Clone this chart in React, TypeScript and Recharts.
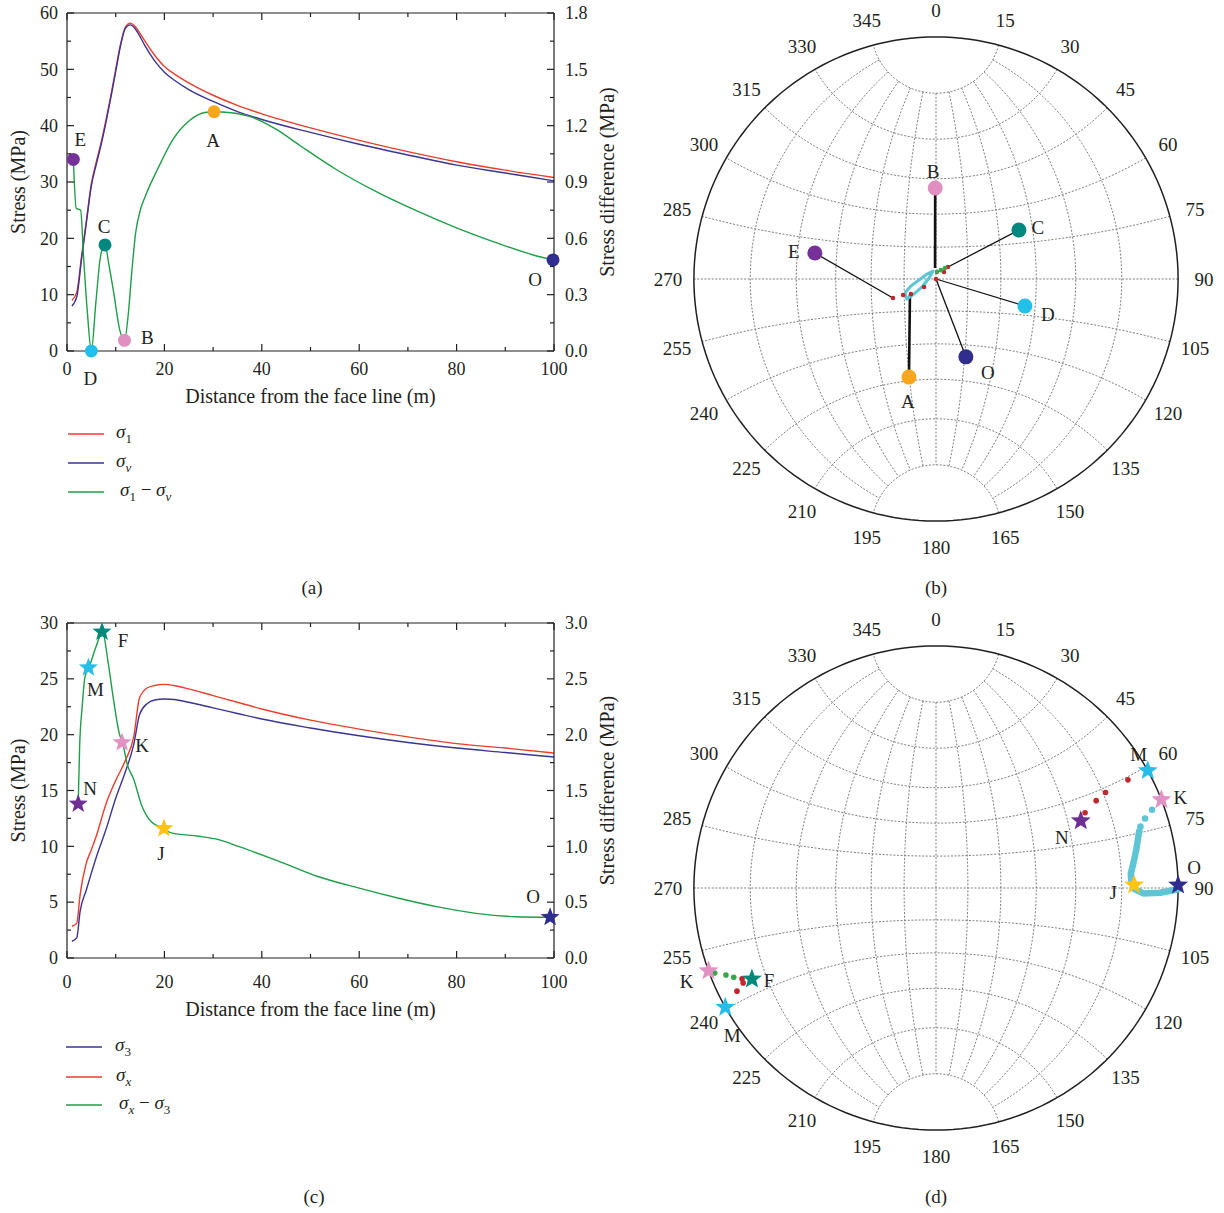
import type { ReactNode } from "react";
import {
  ComposedChart,
  Line,
  ReferenceLine,
  Scatter,
  ScatterChart,
  XAxis,
  YAxis,
} from "recharts";

const SERIF = "'Liberation Serif', 'Times New Roman', serif";
const INK = "#231f20";
const RED = "#ec3c2c";
const BLUE = "#3a3592";
const GREEN = "#1e9e48";
const NET_GREY = "#6d6e71";

type Pt = { x: number; y: number };

// ---------- (a) sigma_1, sigma_v and their difference ----------
const distA = [1, 2, 3, 4, 5, 6, 7, 8, 9, 10, 11, 12, 13, 14, 15, 16, 18, 20, 22, 25, 30, 35, 40, 50, 60, 70, 80, 90, 100];
const sigma1A = [9, 10.4, 16.9, 23.3, 29.7, 33.5, 37, 41, 45.3, 50, 54.5, 57.5, 58.2, 57.6, 56.4, 55, 52.5, 50.5, 49.2, 47.6, 45.4, 43.6, 42.1, 39.6, 37.4, 35.4, 33.6, 32.1, 30.8];
const sigmaVA = [8, 9.6, 16.4, 22.9, 29.3, 33.1, 36.6, 40.6, 45, 49.6, 54.2, 57.3, 57.9, 57.2, 55.8, 54.2, 51.5, 49.5, 48.1, 46.4, 44.3, 42.5, 41.1, 38.8, 36.7, 34.8, 33, 31.6, 30.2];
const diffDistA = [1.3, 1.9, 2.8, 3.4, 4.2, 5.0, 5.9, 6.8, 7.3, 7.8, 8.6, 9.6, 10.8, 11.8, 12.6, 13.3, 14.1, 15.1, 16.1, 18.6, 21.8, 25.1, 28.3, 30.2, 33.2, 38.1, 43, 47.9, 55.2, 63.4, 71.5, 79.6, 87.8, 95.9, 99.8];
const diffA = [1.02, 0.76, 0.75, 0.5, 0.2, 0, 0.25, 0.49, 0.55, 0.565, 0.46, 0.31, 0.115, 0.057, 0.2, 0.42, 0.63, 0.755, 0.826, 0.968, 1.128, 1.226, 1.27, 1.274, 1.27, 1.244, 1.18, 1.093, 0.968, 0.85, 0.75, 0.66, 0.58, 0.51, 0.485];
const markerNamesA = ["E", "D", "C", "B", "A", "O"];
const markerDistA = [1.3, 5.0, 7.8, 11.8, 30.2, 99.8];
const markerDiffA = [1.02, 0, 0.565, 0.057, 1.274, 0.485];

// ---------- (c) sigma_3, sigma_x and their difference ----------
const distC = [1, 2, 2.7, 3.9, 5, 6, 8, 10, 12, 13.7, 14.9, 16.5, 18, 20, 22, 25, 30, 35, 40, 50, 60, 70, 80, 90, 100];
const sigmaXC = [2.84, 3.1, 5.7, 8.4, 9.7, 10.9, 13.8, 15.9, 17.7, 19.8, 23.3, 24.2, 24.4, 24.5, 24.4, 24.1, 23.5, 22.9, 22.3, 21.3, 20.5, 19.8, 19.2, 18.8, 18.35];
const sigma3C = [1.5, 1.8, 4.2, 6.0, 7.6, 9.0, 11.5, 14.3, 16.7, 19.1, 21.8, 22.8, 23.1, 23.2, 23.15, 22.9, 22.4, 21.9, 21.4, 20.6, 19.9, 19.3, 18.8, 18.4, 18.0];
const diffDistC = [2.3, 2.6, 3.1, 3.7, 4.5, 5.9, 7.3, 8.4, 9.6, 10.8, 11.4, 12.4, 13.7, 15.3, 17.3, 19.9, 21.4, 27.1, 31.1, 35.2, 43.3, 51.5, 59.6, 67.7, 75.9, 84, 92.1, 99];
const diffC = [1.38, 1.9, 2.24, 2.52, 2.6, 2.78, 2.92, 2.66, 2.3, 2.0, 1.93, 1.73, 1.6, 1.37, 1.22, 1.16, 1.12, 1.09, 1.06, 1.0, 0.87, 0.73, 0.63, 0.54, 0.46, 0.4, 0.37, 0.365];
const markerNamesC = ["N", "M", "F", "K", "J", "O"];
const markerDistC = [2.3, 4.4, 7.2, 11.3, 19.9, 99.2];
const markerDiffC = [1.38, 2.6, 2.92, 1.93, 1.16, 0.365];

// axis ticks
const distTicks = [0, 10, 20, 30, 40, 50, 60, 70, 80, 90, 100];
const stressTicksA = [0, 5, 10, 15, 20, 25, 30, 35, 40, 45, 50, 55, 60];
const diffTicksA = [0, 0.15, 0.3, 0.45, 0.6, 0.75, 0.9, 1.05, 1.2, 1.35, 1.5, 1.65, 1.8];
const stressTicksC = [0, 2.5, 5, 7.5, 10, 12.5, 15, 17.5, 20, 22.5, 25, 27.5, 30];
const diffTicksC = [0, 0.25, 0.5, 0.75, 1, 1.25, 1.5, 1.75, 2, 2.25, 2.5, 2.75, 3];

// ---------- (b) stereonet: trend / plunge (deg) ----------
const netBNames = ["B", "C", "E", "D", "O", "A"];
const netBTrend = [359.5, 59.4, 282.1, 106.9, 159, 195.4];
const netBPlunge = [48.8, 46.6, 35.8, 48, 52, 44.4];
const netBLinkTrend = [355, 45, 246.2, 0, 0, 238.4];
const netBLinkPlunge = [84.8, 82, 68, 90, 90, 75.6];
const redTrendB = [246.2, 244, 239, 236, 0, 48.8, 45];
const redPlungeB = [68, 72.8, 76.2, 83.2, 90, 85, 82];
const greenTrendB = [8, 29, 39];
const greenPlungeB = [86.6, 85.2, 83.3];
const cyanTrendB = [245.7, 254.4, 266.6, 299, 339.4, 278, 240.3, 235.7, 235.4, 245.7];
const cyanPlungeB = [74, 77.7, 82, 85.2, 86, 86.7, 82.4, 77.4, 73.4, 74];

// ---------- (d) stereonet ----------
const netDIds = ["M1", "K1", "N", "J", "O", "K2", "F", "M2"];
const netDNames = ["M", "K", "N", "J", "O", "K", "F", "M"];
const netDTrend = [61.0, 68.6, 65.1, 89.1, 89.3, 250, 243.7, 240.5];
const netDPlunge = [0, 0, 23.2, 11.4, 0, 0, 9.4, 0];
const redTrendD = [60.6, 60.6, 61.4, 63.2, 244.9, 243.8, 242.6];
const redPlungeD = [5.4, 12.4, 16, 20.8, 7, 6.8, 4.4];
const greenTrendD = [249, 247.5, 246.2];
const greenPlungeD = [1.2, 3.6, 5.2];
const cyanDotTrendD = [70.1, 71.6, 73.3, 74.5];
const cyanDotPlungeD = [3, 5.4, 7.2, 7.9];
const cyanPathTrendD = [74.5, 75.6, 79.2, 82.9, 85.7, 88.2, 90.4, 91.5, 91.2, 90.3];
const cyanPathPlungeD = [7.9, 8.4, 9.8, 11.2, 12.2, 12.2, 11.2, 8.8, 4.4, 0];

const azimuthLabels = [0, 15, 30, 45, 60, 75, 90, 105, 120, 135, 150, 165, 180, 195, 210, 225, 240, 255, 270, 285, 300, 315, 330, 345];

const POINT_COLORS: Record<string, string> = {
  A: "#f8a61c",
  B: "#e08fc0",
  C: "#00877e",
  D: "#22bfe9",
  E: "#75309a",
  O: "#2f2e8f",
  F: "#008a7c",
  J: "#fcc416",
  K: "#e291c3",
  M: "#27bde9",
  N: "#6e2e94",
};

// label offsets (px) from each marker
const LABEL_OFFSET_A: Record<string, [number, number]> = {
  E: [7, -20], D: [-1, 27], C: [-1, -18], B: [23, -3], A: [-1, 29], O: [-18, 20],
};
const LABEL_OFFSET_C: Record<string, [number, number]> = {
  N: [12, -15], M: [7, 22], F: [21, 9], K: [20, 3], J: [-3, 25], O: [-17, -21],
};
const LABEL_OFFSET_B: Record<string, [number, number]> = {
  B: [-2, -17], C: [19, -2], E: [-21, -2], D: [23, 8], O: [22, 16], A: [-1, 24],
};
const LABEL_OFFSET_D: Record<string, [number, number]> = {
  M1: [-9, -16], K1: [19, -2], N: [-19, 17], J: [-21, 8], O: [16, -18], K2: [-22, 11], F: [17, 2], M2: [7, 28],
};
const LINK_WIDTH_B: Record<string, number> = { B: 2.6, A: 2.6, C: 1.3, E: 1.3, D: 1.3, O: 1.3 };

const deg = Math.PI / 180;
const zip = (xs: number[], ys: number[]): Pt[] => xs.map((x, i) => ({ x, y: ys[i] }));

// lower-hemisphere stereographic (Wulff) projection
function proj(trend: number, plunge: number): Pt {
  const r = Math.tan(((90 - plunge) / 2) * deg);
  return { x: r * Math.sin(trend * deg), y: r * Math.cos(trend * deg) };
}
const fromTP = (t: number[], p: number[]) => t.map((tr, i) => proj(tr, p[i]));
const vec = (e: number, n: number, u: number): Pt => ({ x: e / (1 - u), y: n / (1 - u) });

// Wulff net graticule, 15 degree spacing, meridians stop 15 degrees from the poles
function buildNet(): Pt[][] {
  const curves: Pt[][] = [];
  for (let d = 15; d <= 90; d += 15) {
    for (const s of d === 90 ? [1] : [1, -1]) {
      const pts: Pt[] = [];
      for (let t = 15; t <= 165.01; t += 2.5) {
        pts.push(vec(s * Math.cos(d * deg) * Math.sin(t * deg), Math.cos(t * deg), -Math.sin(d * deg) * Math.sin(t * deg)));
      }
      curves.push(pts);
    }
  }
  for (let a = 15; a <= 165; a += 15) {
    const pts: Pt[] = [];
    for (let b = 0; b <= 180.01; b += 3) {
      pts.push(vec(Math.sin(a * deg) * Math.cos(b * deg), Math.cos(a * deg), -Math.sin(a * deg) * Math.sin(b * deg)));
    }
    curves.push(pts);
  }
  return curves;
}
const NET_CURVES = buildNet();
const PRIMITIVE: Pt[] = Array.from({ length: 181 }, (_, i) => ({ x: Math.sin(i * 2 * deg), y: Math.cos(i * 2 * deg) }));
const NET_SPAN = 1.14;
const LABEL_RADIUS = 1.107;

const noShape = () => <g />;
const dotShape = (r: number, fill: string) => (p: any) => <circle cx={p.cx} cy={p.cy} r={r} fill={fill} />;

function starPath(cx: number, cy: number, R: number, r: number) {
  let d = "";
  for (let i = 0; i < 10; i++) {
    const a = -Math.PI / 2 + (i * Math.PI) / 5;
    const rad = i % 2 === 0 ? R : r;
    d += (i === 0 ? "M" : "L") + (cx + rad * Math.cos(a)).toFixed(2) + "," + (cy + rad * Math.sin(a)).toFixed(2);
  }
  return d + "Z";
}

const labelText = { fontFamily: SERIF, fontSize: 19, fill: INK };

function markerShape(kind: "circle" | "star", size: number, offsets: Record<string, [number, number]>) {
  return (p: any) => {
    const { cx, cy, payload } = p;
    const [dx, dy] = offsets[payload.id] ?? [0, 0];
    const color = POINT_COLORS[payload.name];
    return (
      <g>
        {kind === "circle" ? (
          <circle cx={cx} cy={cy} r={size} fill={color} />
        ) : (
          <path d={starPath(cx, cy, size, size * 0.42)} fill={color} />
        )}
        <text x={cx + dx} y={cy + dy} textAnchor="middle" dominantBaseline="central" {...labelText}>
          {payload.name}
        </text>
      </g>
    );
  };
}

type Side = "left" | "right" | "bottom";
function axisTick(side: Side, gap: number, step: number, digits: number, plotHeight = 0) {
  return (props: any) => {
    const { x, y, payload } = props;
    const v = Number(payload.value);
    const major = Math.abs(v / step - Math.round(v / step)) < 1e-6;
    const len = major ? 7 : 4;
    const txt = { fontFamily: SERIF, fontSize: 18, fill: INK };
    if (side === "left") {
      const ax = x + gap;
      return (
        <g>
          <line x1={ax} y1={y} x2={ax + len} y2={y} stroke={INK} strokeWidth={1.2} />
          {major && (
            <text x={x} y={y} dy="0.35em" textAnchor="end" {...txt}>
              {v.toFixed(digits)}
            </text>
          )}
        </g>
      );
    }
    if (side === "right") {
      const ax = x - gap;
      return (
        <g>
          <line x1={ax} y1={y} x2={ax - len} y2={y} stroke={INK} strokeWidth={1.2} />
          {major && (
            <text x={x} y={y} dy="0.35em" textAnchor="start" {...txt}>
              {v.toFixed(digits)}
            </text>
          )}
        </g>
      );
    }
    const ay = y - gap;
    return (
      <g>
        <line x1={x} y1={ay} x2={x} y2={ay - len} stroke={INK} strokeWidth={1.2} />
        <line x1={x} y1={ay - plotHeight} x2={x} y2={ay - plotHeight + len} stroke={INK} strokeWidth={1.2} />
        {major && (
          <text x={x} y={y} dy="0.35em" textAnchor="middle" {...txt}>
            {v.toFixed(digits)}
          </text>
        )}
      </g>
    );
  };
}

const titleStyle = { fontFamily: SERIF, fontSize: 20, fill: INK };
const yTitle = (text: string, dx: number) => (p: any) => {
  const vb = p.viewBox;
  const cx = vb.x + dx;
  const cy = vb.y + vb.height / 2;
  return (
    <text x={cx} y={cy} transform={`rotate(-90, ${cx}, ${cy})`} textAnchor="middle" dominantBaseline="central" {...titleStyle}>
      {text}
    </text>
  );
};
const xTitle = (text: string, dy: number) => (p: any) => {
  const vb = p.viewBox;
  return (
    <text x={vb.x + vb.width / 2} y={vb.y + dy} textAnchor="middle" dominantBaseline="central" {...titleStyle}>
      {text}
    </text>
  );
};

type ProfileProps = {
  marginTop: number;
  plotHeight: number;
  leftMax: number;
  leftTicks: number[];
  leftStep: number;
  rightMax: number;
  rightTicks: number[];
  rightStep: number;
  bottomGap: number;
  titleGap: number;
  lines: { data: Pt[]; color: string; axis: string }[];
  markers: (Pt & { name: string; id: string })[];
  markerKind: "circle" | "star";
  markerSize: number;
  offsets: Record<string, [number, number]>;
};

function ProfileChart(p: ProfileProps) {
  const xAxisHeight = 69;
  return (
    <ComposedChart
      width={621}
      height={p.marginTop + p.plotHeight + xAxisHeight}
      margin={{ top: p.marginTop, right: 0, bottom: 0, left: 0 }}
    >
      <XAxis
        type="number"
        dataKey="x"
        domain={[0, 100]}
        ticks={distTicks}
        interval={0}
        tickSize={0}
        tickMargin={p.bottomGap}
        tickLine={false}
        axisLine={{ stroke: INK, strokeWidth: 1.2 }}
        tick={axisTick("bottom", p.bottomGap, 20, 0, p.plotHeight)}
        height={xAxisHeight}
        label={xTitle("Distance from the face line (m)", p.titleGap)}
      />
      <YAxis
        yAxisId="left"
        type="number"
        domain={[0, p.leftMax]}
        ticks={p.leftTicks}
        interval={0}
        width={67}
        tickSize={0}
        tickMargin={9}
        tickLine={false}
        axisLine={{ stroke: INK, strokeWidth: 1.2 }}
        tick={axisTick("left", 9, p.leftStep, 0)}
        label={yTitle("Stress (MPa)", 18)}
      />
      <YAxis
        yAxisId="right"
        orientation="right"
        type="number"
        domain={[0, p.rightMax]}
        ticks={p.rightTicks}
        interval={0}
        width={67}
        tickSize={0}
        tickMargin={11}
        tickLine={false}
        axisLine={{ stroke: INK, strokeWidth: 1.2 }}
        tick={axisTick("right", 11, p.rightStep, 1)}
        label={yTitle("Stress difference (MPa)", 53)}
      />
      <ReferenceLine yAxisId="left" y={p.leftMax} stroke={INK} strokeWidth={1.2} />
      {p.lines.map((l, i) => (
        <Line
          key={i}
          data={l.data}
          dataKey="y"
          yAxisId={l.axis}
          type="monotone"
          stroke={l.color}
          strokeWidth={1.4}
          dot={false}
          activeDot={false}
          isAnimationActive={false}
        />
      ))}
      <Scatter
        data={p.markers}
        dataKey="y"
        yAxisId="right"
        shape={markerShape(p.markerKind, p.markerSize, p.offsets)}
        isAnimationActive={false}
      />
    </ComposedChart>
  );
}

function netBase(prefix: string) {
  const layers = NET_CURVES.map((pts, i) => (
    <Scatter
      key={`${prefix}-g${i}`}
      data={pts}
      line={{ stroke: NET_GREY, strokeWidth: 0.9, strokeDasharray: "2 1.6" }}
      shape={noShape}
      isAnimationActive={false}
    />
  ));
  layers.push(
    <Scatter
      key={`${prefix}-prim`}
      data={PRIMITIVE}
      line={{ stroke: INK, strokeWidth: 1.5 }}
      shape={noShape}
      isAnimationActive={false}
    />
  );
  layers.push(
    <Scatter
      key={`${prefix}-az`}
      data={azimuthLabels.map((a) => ({
        x: LABEL_RADIUS * Math.sin(a * deg),
        y: LABEL_RADIUS * Math.cos(a * deg),
        label: String(a),
      }))}
      shape={(q: any) => (
        <text x={q.cx} y={q.cy} textAnchor="middle" dominantBaseline="central" {...labelText}>
          {q.payload.label}
        </text>
      )}
      isAnimationActive={false}
    />
  );
  return layers;
}

function NetChart({ children, prefix }: { children: ReactNode; prefix: string }) {
  return (
    <ScatterChart width={584} height={600} margin={{ top: 3, right: 12, bottom: 45, left: 20 }}>
      <XAxis type="number" dataKey="x" domain={[-NET_SPAN, NET_SPAN]} hide />
      <YAxis type="number" dataKey="y" domain={[-NET_SPAN, NET_SPAN]} hide />
      {netBase(prefix)}
      {children}
    </ScatterChart>
  );
}

function LegendRow({ x, y, textX, color, children }: { x: number; y: number; textX: number; color: string; children: ReactNode }) {
  return (
    <>
      <svg style={{ position: "absolute", left: x, top: y - 2 }} width={36} height={4}>
        <line x1={0} y1={2} x2={36} y2={2} stroke={color} strokeWidth={1.6} />
      </svg>
      <div style={{ position: "absolute", left: textX, top: y - 14, fontSize: 19, lineHeight: "24px", whiteSpace: "nowrap" }}>
        {children}
      </div>
    </>
  );
}

const Sig = ({ sub, italicSub }: { sub: string; italicSub?: boolean }) => (
  <>
    <span style={{ fontStyle: "italic" }}>σ</span>
    <span style={{ fontSize: 13, position: "relative", top: 5, fontStyle: italicSub ? "italic" : "normal" }}>{sub}</span>
  </>
);

function Caption({ x, y, text }: { x: number; y: number; text: string }) {
  return (
    <div style={{ position: "absolute", left: x - 30, top: y - 12, width: 60, textAlign: "center", fontSize: 19, lineHeight: "24px" }}>
      {text}
    </div>
  );
}

export default function App() {
  const markersA = markerNamesA.map((n, i) => ({ name: n, id: n, x: markerDistA[i], y: markerDiffA[i] }));
  const markersC = markerNamesC.map((n, i) => ({ name: n, id: n, x: markerDistC[i], y: markerDiffC[i] }));

  const bPoints = netBNames.map((n, i) => ({ name: n, id: n, ...proj(netBTrend[i], netBPlunge[i]) }));
  const bLinks = netBNames.map((n, i) => ({
    name: n,
    pts: [proj(netBTrend[i], netBPlunge[i]), proj(netBLinkTrend[i], netBLinkPlunge[i])],
  }));
  const dPoints = netDIds.map((id, i) => ({ name: netDNames[i], id, ...proj(netDTrend[i], netDPlunge[i]) }));

  return (
    <div
      style={{
        position: "absolute",
        left: 0,
        top: 0,
        width: 1224,
        height: 1213,
        background: "#fff",
        overflow: "hidden",
        fontFamily: SERIF,
        color: INK,
      }}
    >
      <div style={{ position: "absolute", left: 0, top: 0 }}>
        <ProfileChart
          marginTop={13}
          plotHeight={338}
          leftMax={60}
          leftTicks={stressTicksA}
          leftStep={10}
          rightMax={1.8}
          rightTicks={diffTicksA}
          rightStep={0.3}
          bottomGap={18}
          titleGap={45}
          lines={[
            { data: zip(distA, sigma1A), color: RED, axis: "left" },
            { data: zip(distA, sigmaVA), color: BLUE, axis: "left" },
            { data: zip(diffDistA, diffA), color: GREEN, axis: "right" },
          ]}
          markers={markersA}
          markerKind="circle"
          markerSize={6.5}
          offsets={LABEL_OFFSET_A}
        />
      </div>

      <div style={{ position: "absolute", left: 0, top: 605 }}>
        <ProfileChart
          marginTop={18}
          plotHeight={335}
          leftMax={30}
          leftTicks={stressTicksC}
          leftStep={5}
          rightMax={3}
          rightTicks={diffTicksC}
          rightStep={0.5}
          bottomGap={24}
          titleGap={51}
          lines={[
            { data: zip(distC, sigmaXC), color: RED, axis: "left" },
            { data: zip(distC, sigma3C), color: BLUE, axis: "left" },
            { data: zip(diffDistC, diffC), color: GREEN, axis: "right" },
          ]}
          markers={markersC}
          markerKind="star"
          markerSize={10}
          offsets={LABEL_OFFSET_C}
        />
      </div>

      <div style={{ position: "absolute", left: 640, top: 0 }}>
        <NetChart prefix="b">
          {bLinks.map((l) => (
            <Scatter
              key={`link-${l.name}`}
              data={l.pts}
              line={{ stroke: "#111", strokeWidth: LINK_WIDTH_B[l.name] }}
              shape={noShape}
              isAnimationActive={false}
            />
          ))}
          <Scatter
            data={fromTP(cyanTrendB, cyanPlungeB)}
            line={{ stroke: "#5ec5d5", strokeWidth: 3, strokeLinejoin: "round" }}
            shape={noShape}
            isAnimationActive={false}
          />
          <Scatter data={fromTP(redTrendB, redPlungeB)} shape={dotShape(2.3, "#c1272d")} isAnimationActive={false} />
          <Scatter data={fromTP(greenTrendB, greenPlungeB)} shape={dotShape(2.3, "#3aa54a")} isAnimationActive={false} />
          <Scatter data={bPoints} shape={markerShape("circle", 7.5, LABEL_OFFSET_B)} isAnimationActive={false} />
        </NetChart>
      </div>

      <div style={{ position: "absolute", left: 640, top: 609 }}>
        <NetChart prefix="d">
          <Scatter
            data={fromTP(cyanPathTrendD, cyanPathPlungeD)}
            line={{ stroke: "#5ec5d5", strokeWidth: 6.5, strokeLinejoin: "round", strokeLinecap: "round" }}
            shape={noShape}
            isAnimationActive={false}
          />
          <Scatter data={fromTP(cyanDotTrendD, cyanDotPlungeD)} shape={dotShape(3.3, "#5ec5d5")} isAnimationActive={false} />
          <Scatter data={fromTP(redTrendD, redPlungeD)} shape={dotShape(2.8, "#c1272d")} isAnimationActive={false} />
          <Scatter data={fromTP(greenTrendD, greenPlungeD)} shape={dotShape(2.8, "#3aa54a")} isAnimationActive={false} />
          <Scatter data={dPoints} shape={markerShape("star", 10.5, LABEL_OFFSET_D)} isAnimationActive={false} />
        </NetChart>
      </div>

      <LegendRow x={68} y={434} textX={116} color={RED}>
        <Sig sub="1" />
      </LegendRow>
      <LegendRow x={68} y={463} textX={116} color={BLUE}>
        <Sig sub="v" italicSub />
      </LegendRow>
      <LegendRow x={68} y={492} textX={120} color={GREEN}>
        <Sig sub="1" /> − <Sig sub="v" italicSub />
      </LegendRow>

      <LegendRow x={66} y={1047} textX={115} color={BLUE}>
        <Sig sub="3" />
      </LegendRow>
      <LegendRow x={66} y={1077} textX={116} color={RED}>
        <Sig sub="x" italicSub />
      </LegendRow>
      <LegendRow x={66} y={1105} textX={119} color={GREEN}>
        <Sig sub="x" italicSub /> − <Sig sub="3" />
      </LegendRow>

      <Caption x={312} y={588} text="(a)" />
      <Caption x={936} y={588} text="(b)" />
      <Caption x={314} y={1197} text="(c)" />
      <Caption x={936} y={1197} text="(d)" />
    </div>
  );
}
